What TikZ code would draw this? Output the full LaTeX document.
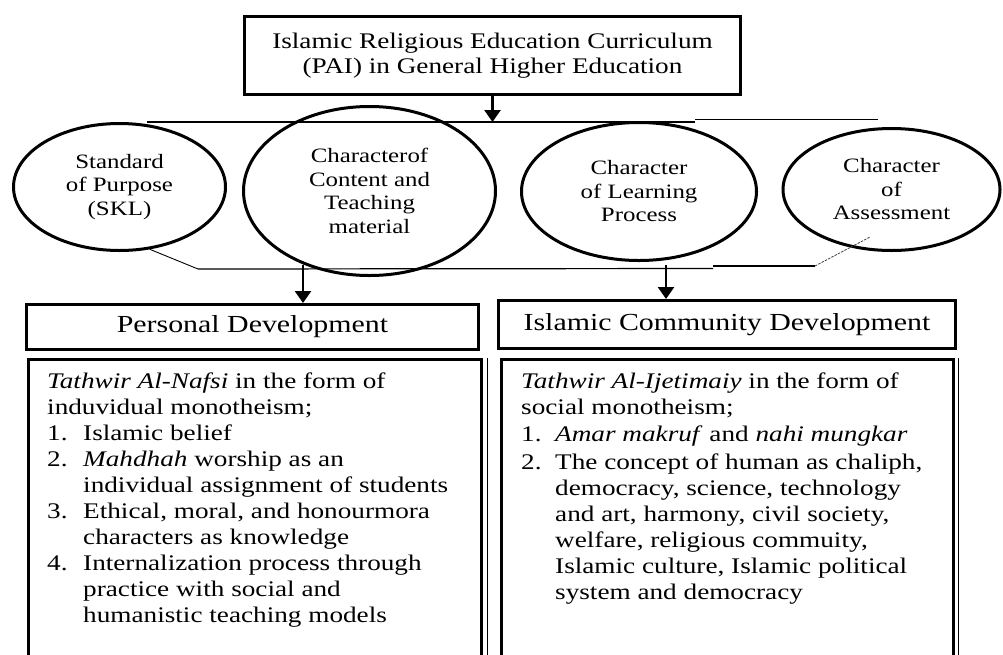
\documentclass[tikz,border=0pt]{standalone}
\usepackage{fontspec}
\setmainfont{Liberation Serif}[FakeStretch=1.22]
\usetikzlibrary{arrows.meta,shapes.geometric}

\tikzset{
  framebox/.style={draw, rectangle, line width=3pt, inner sep=0pt},
  oval/.style={draw, ellipse, line width=3pt, inner sep=0pt, align=center,
    font=\fontsize{20.4}{23.5}\selectfont},
  thinline/.style={line width=1.2pt},
  faintline/.style={line width=0.8pt, dash pattern=on 2.5pt off 1.2pt, black!75},
  downarrow/.style={line width=2.5pt, -{Triangle[width=16pt,length=12pt]}},
  headtext/.style={font=\fontsize{24.5}{28}\selectfont},
  bodytext/.style={anchor=north west, inner sep=0pt, align=left,
    font=\fontsize{22.3}{26}\selectfont},
}
\newcommand{\itemno}[2][36pt]{\makebox[#1][l]{#2}}

\begin{document}
\begin{tikzpicture}[x=1pt,y=-1pt]
  \useasboundingbox (0,0) rectangle (1003,654);
  \fill[white] (0,0) rectangle (1003,654);
  \clip (0,0) rectangle (1003,654);

  % title box
  \node[framebox, minimum width=496pt, minimum height=78pt, align=center,
        font=\fontsize{22.3}{25}\selectfont] (pai) at (492.5,55.5)
        {Islamic Religious Education Curriculum\\(PAI) in General Higher Education};

  % upper bracket line
  \coordinate (topL)  at (147,122);
  \coordinate (topM)  at (695,122);
  \coordinate (topM2) at (695,119.5);
  \coordinate (topR)  at (878,119.5);
  \draw[thinline] (topL) -- (topM);
  \draw[thinline] (topM2) -- (topR);
  \draw[downarrow] (pai.south) -- (pai.south |- topL);

  % the four characters
  \node[oval, minimum width=212pt, minimum height=127pt] (skl) at (119.5,187)
        {Standard\\of Purpose\\(SKL)};
  \node[oval, minimum width=252pt, minimum height=169pt] (content) at (369.5,191)
        {Characterof\\Content and\\Teaching\\material};
  \node[oval, minimum width=235pt, minimum height=138pt] (learning) at (639,191.5)
        {Character\\of Learning\\Process};
  \node[oval, minimum width=217pt, minimum height=122pt] (assess) at (891.5,189.5)
        {Character\\of\\Assessment};

  % lower bracket line
  \coordinate (botL)  at (198,269);
  \coordinate (botM)  at (713,268.5);
  \coordinate (botM2) at (713,266);
  \coordinate (botR)  at (815,266);
  \coordinate (assessfoot) at (870,237);
  \draw[thinline] (botL) -- (botM);
  \draw[thinline] (botM2) -- (botR);
  \draw[line width=0.9pt] (skl.-64) -- (botL);
  \draw[faintline] (botR) -- (assessfoot);

  % headings
  \node[framebox, minimum width=452pt, minimum height=45pt, headtext] (pd)
        at (252.5,327) {Personal Development};
  \node[framebox, minimum width=457pt, minimum height=48pt, headtext] (cd)
        at (727,324.5) {Islamic Community Development};

  \coordinate (jL) at (303,265);
  \coordinate (jR) at (666,265);
  \draw[downarrow] (jL) -- (jL |- pd.north);
  \draw[downarrow] (jR) -- (jR |- cd.north);

  % content boxes
  \node[framebox, line width=3.5pt, minimum width=453pt, minimum height=330pt]
        (pdbody) at (255,524.5) {};
  \node[framebox, line width=2.5pt, minimum width=452pt, minimum height=330pt]
        (cdbody) at (727.5,524.5) {};
  \draw[line width=0.8pt] ([xshift=4pt]pdbody.north east) -- ([xshift=4pt]pdbody.south east);
  \draw[line width=0.8pt] ([xshift=4pt]cdbody.north east) -- ([xshift=4pt]cdbody.south east);

  \node[bodytext] (pdtext) at (47,371)
    {\rule{0pt}{17pt}\textit{Tathwir Al-Nafsi} in the form of\\
     induvidual monotheism;\\
     \itemno{1.}Islamic belief\\
     \itemno{2.}\textit{Mahdhah} worship as an\\
     \hspace*{36pt}individual assignment of students\\
     \itemno{3.}Ethical, moral, and honourmora\\
     \hspace*{36pt}characters as knowledge\\
     \itemno{4.}Internalization process through\\
     \hspace*{36pt}practice with social and\\
     \hspace*{36pt}humanistic teaching models};

  \node[bodytext] (cdtext) at (521,371)
    {\rule{0pt}{17pt}\textit{Tathwir Al-Ijetimaiy} in the form of\\
     social monotheism;\\[1pt]
     \itemno[34pt]{1.}\textit{Amar makruf} and \textit{nahi mungkar}\\[2pt]
     \itemno[34pt]{2.}The concept of human as chaliph,\\
     \hspace*{34pt}democracy, science, technology\\
     \hspace*{34pt}and art, harmony, civil society,\\
     \hspace*{34pt}welfare, religious commuity,\\
     \hspace*{34pt}Islamic culture, Islamic political\\
     \hspace*{34pt}system and democracy};
\end{tikzpicture}
\end{document}
